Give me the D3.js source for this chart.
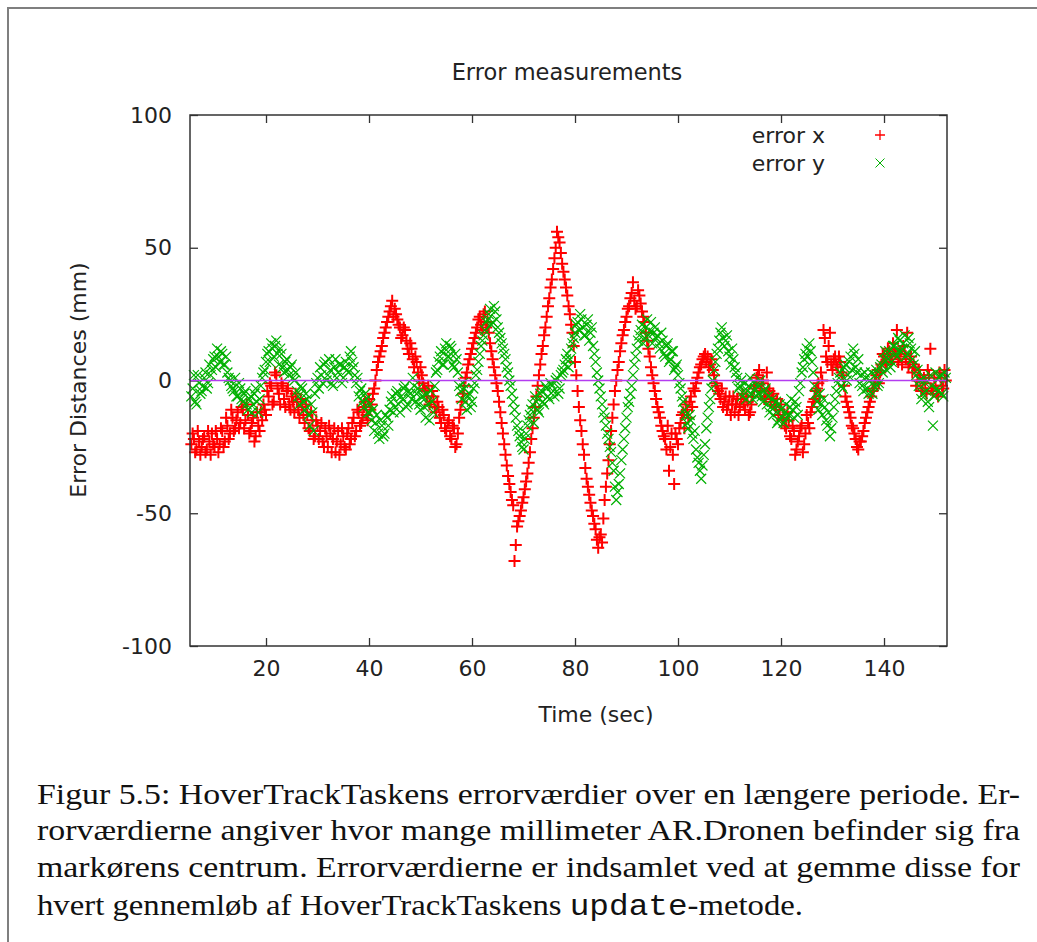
<!DOCTYPE html>
<html>
<head>
<meta charset="utf-8">
<script src="https://cdn.jsdelivr.net/npm/d3@7"></script>
<style>
  body { margin: 0; background: #fff; }
  svg { display: block; }
</style>
</head>
<body>
<svg id="chart" width="1037" height="942"></svg>
<script>
// sample times in seconds (one row = 5 sec), first reading pass
var times = [
  5.5, 6, 6.5, 7, 7.5, 8, 8.5, 9, 9.5, 10,
  10.5, 11, 11.5, 12, 12.5, 13, 13.5, 14, 14.5, 15,
  15.5, 16, 16.5, 17, 17.5, 18, 18.5, 19, 19.5, 20,
  20.5, 21, 21.5, 22, 22.5, 23, 23.5, 24, 24.5, 25,
  25.5, 26, 26.5, 27, 27.5, 28, 28.5, 29, 29.5, 30,
  30.5, 31, 31.5, 32, 32.5, 33, 33.5, 34, 34.5, 35,
  35.5, 36, 36.5, 37, 37.5, 38, 38.5, 39, 39.5, 40,
  40.5, 41, 41.5, 42, 42.5, 43, 43.5, 44, 44.5, 45,
  45.5, 46, 46.5, 47, 47.5, 48, 48.5, 49, 49.5, 50,
  50.5, 51, 51.5, 52, 52.5, 53, 53.5, 54, 54.5, 55,
  55.5, 56, 56.5, 57, 57.5, 58, 58.5, 59, 59.5, 60,
  60.5, 61, 61.5, 62, 62.5, 63, 63.5, 64, 64.5, 65,
  65.5, 66, 66.5, 67, 67.5, 68, 68.5, 69, 69.5, 70,
  70.5, 71, 71.5, 72, 72.5, 73, 73.5, 74, 74.5, 75,
  75.5, 76, 76.5, 77, 77.5, 78, 78.5, 79, 79.5, 80,
  80.5, 81, 81.5, 82, 82.5, 83, 83.5, 84, 84.5, 85,
  85.5, 86, 86.5, 87, 87.5, 88, 88.5, 89, 89.5, 90,
  90.5, 91, 91.5, 92, 92.5, 93, 93.5, 94, 94.5, 95,
  95.5, 96, 96.5, 97, 97.5, 98, 98.5, 99, 99.5, 100,
  100.5, 101, 101.5, 102, 102.5, 103, 103.5, 104, 104.5, 105,
  105.5, 106, 106.5, 107, 107.5, 108, 108.5, 109, 109.5, 110,
  110.5, 111, 111.5, 112, 112.5, 113, 113.5, 114, 114.5, 115,
  115.5, 116, 116.5, 117, 117.5, 118, 118.5, 119, 119.5, 120,
  120.5, 121, 121.5, 122, 122.5, 123, 123.5, 124, 124.5, 125,
  125.5, 126, 126.5, 127, 127.5, 128, 128.5, 129, 129.5, 130,
  130.5, 131, 131.5, 132, 132.5, 133, 133.5, 134, 134.5, 135,
  135.5, 136, 136.5, 137, 137.5, 138, 138.5, 139, 139.5, 140,
  140.5, 141, 141.5, 142, 142.5, 143, 143.5, 144, 144.5, 145,
  145.5, 146, 146.5, 147, 147.5, 148, 148.5, 149, 149.5, 150,
  150.5, 151, 151.5, 152
];

var errorX = [
  -24, -22, -26, -23, -25, -21, -26, -23, -20, -25,
  -22, -24, -19, -23, -17, -20, -14, -18, -12, -16,
  -11, -15, -13, -19, -14, -21, -17, -12, -9, -13,
  -6, -2, -8, 2, -5, -1, -7, -4, -9, -6,
  -12, -8, -14, -10, -16, -13, -19, -15, -21, -17,
  -19, -23, -18, -25, -20, -22, -27, -19, -24, -21,
  -26, -18, -22, -14, -19, -12, -16, -10, -13, -7,
  -9, -3, 4, 9, 13, 18, 22, 26, 30, 27,
  23, 20, 17, 19, 12, 14, 8, 9, 3, 5,
  -1, -4, -2, -8, -6, -12, -10, -16, -13, -19,
  -15, -22, -18, -24, -14, -8, -2, 3, 8, 12,
  16, 20, 24, 19, 26, 22, 14, 8, 2, -4,
  -12, -20, -28, -36, -42, -47, -62, -53, -49, -44,
  -38, -31, -22, -14, -6, 2, 10, 17, 24, 31,
  38, 46, 56, 52, 44, 38, 32, 25, 18, 7,
  -4, -15, -24, -33, -40, -46, -51, -56, -63, -58,
  -52, -40, -30, -19, -9, 0, 7, 14, 19, 24,
  28, 33, 30, 28, 32, 26, 22, 15, 9, 2,
  -4, -10, -14, -19, -22, -17, -25, -28, -20, -24,
  -16, -12, -9, -14, -6, -3, -1, 3, 6, 9,
  7, 5, 8, 2, -2, -5, -3, -8, -11, -6,
  -9, -12, -7, -10, -5, -11, -8, -12, -6, -2,
  2, -4, 0, -6, -3, -8, -5, -10, -13, -9,
  -14, -18, -15, -22, -19, -26, -21, -17, -24, -13,
  -18, -10, -7, -3, -6, 0, 16, 7, 18, 4,
  9, 5, 7, 2, -6, -10, -14, -18, -22, -26,
  -23, -19, -14, -10, -6, -3, 2, -1, 6, 9,
  6, 11, 8, 12, 19, 9, 6, 10, 18, 7,
  3, 5, 0, 2, -3, -1, 4, 12, -4, -2,
  -6, 1, -3, 0
];

var errorY = [
  -6, 2, -9, -1, -4, 1, -3, 6, 4, 9,
  12, 7, 10, 6, 3, 0, -3, 1, -6, -3,
  -8, -4, -11, -6, -9, -3, -12, -2, 3, 7,
  11, 14, 9, 15, 6, 10, 3, 8, 2, 6,
  0, -4, -9, -3, -11, -7, -17, -12, -5, 1,
  5, -1, 7, 2, 4, -2, 8, 3, 6, 1,
  7, 3, 11, 5, -1, -6, -3, -10, -7, -12,
  -15, -19, -13, -22, -17, -20, -14, -11, -6, -10,
  -4, -12, -7, -2, -9, -5, 1, -8, -3, -11,
  -6, -14, -9, -4, -12, 3, 7, 11, 6, 14,
  9, 12, 5, 8, -2, -7, -3, -11, -5, -8,
  -1, 4, 10, 15, 19, 23, 27, 22, 26, 20,
  16, 12, 8, 3, -2, -8, -14, -19, -23, -26,
  -20, -15, -11, -16, -8, -12, -4, -9, -3, -7,
  -2, -6, 1, -3, 3, 6, 10, 8, 14, 18,
  22, 25, 20, 17, 23, 18, 13, 7, 0, -6,
  -12, -17, -22, -27, -34, -45, -39, -30, -22, -14,
  -8, -2, 6, 12, 17, 21, 16, 23, 19, 14,
  20, 17, 12, 15, 9, 14, 8, 11, 5, 2,
  -3, -8, -13, -18, -15, -22, -26, -31, -37, -28,
  -18, -10, -3, 4, 10, 15, 20, 13, 17, 9,
  12, 5, 1, -2, -6, -1, -4, 1, -7, -3,
  -5, 0, -8, -3, -6, -10, -13, -8, -15, -11,
  -16, -9, -13, -7, -14, -10, -4, 3, 8, 12,
  14, 7, -2, -8, -5, -13, -10, -17, -21, -14,
  -7, -1, 3, -3, 6, 2, 9, 12, 5, 8,
  2, -4, 1, -5, 3, -2, 4, -1, 6, 8,
  4, 11, 7, 13, 9, 15, 12, 17, 10, 14,
  8, 11, 4, 0, -5, -1, -8, 2, -17, 3,
  -4, 2, -6, 1
];

// second reading pass, in between the first one
var timesB = [
  5.75, 6.25, 6.75, 7.25, 7.75, 8.25, 8.75, 9.25, 9.75, 10.25,
  10.75, 11.25, 11.75, 12.25, 12.75, 13.25, 13.75, 14.25, 14.75, 15.25,
  15.75, 16.25, 16.75, 17.25, 17.75, 18.25, 18.75, 19.25, 19.75, 20.25,
  20.75, 21.25, 21.75, 22.25, 22.75, 23.25, 23.75, 24.25, 24.75, 25.25,
  25.75, 26.25, 26.75, 27.25, 27.75, 28.25, 28.75, 29.25, 29.75, 30.25,
  30.75, 31.25, 31.75, 32.25, 32.75, 33.25, 33.75, 34.25, 34.75, 35.25,
  35.75, 36.25, 36.75, 37.25, 37.75, 38.25, 38.75, 39.25, 39.75, 40.25,
  40.75, 41.25, 41.75, 42.25, 42.75, 43.25, 43.75, 44.25, 44.75, 45.25,
  45.75, 46.25, 46.75, 47.25, 47.75, 48.25, 48.75, 49.25, 49.75, 50.25,
  50.75, 51.25, 51.75, 52.25, 52.75, 53.25, 53.75, 54.25, 54.75, 55.25,
  55.75, 56.25, 56.75, 57.25, 57.75, 58.25, 58.75, 59.25, 59.75, 60.25,
  60.75, 61.25, 61.75, 62.25, 62.75, 63.25, 63.75, 64.25, 64.75, 65.25,
  65.75, 66.25, 66.75, 67.25, 67.75, 68.25, 68.75, 69.25, 69.75, 70.25,
  70.75, 71.25, 71.75, 72.25, 72.75, 73.25, 73.75, 74.25, 74.75, 75.25,
  75.75, 76.25, 76.75, 77.25, 77.75, 78.25, 78.75, 79.25, 79.75, 80.25,
  80.75, 81.25, 81.75, 82.25, 82.75, 83.25, 83.75, 84.25, 84.75, 85.25,
  85.75, 86.25, 86.75, 87.25, 87.75, 88.25, 88.75, 89.25, 89.75, 90.25,
  90.75, 91.25, 91.75, 92.25, 92.75, 93.25, 93.75, 94.25, 94.75, 95.25,
  95.75, 96.25, 96.75, 97.25, 97.75, 98.25, 98.75, 99.25, 99.75, 100.25,
  100.75, 101.25, 101.75, 102.25, 102.75, 103.25, 103.75, 104.25, 104.75, 105.25,
  105.75, 106.25, 106.75, 107.25, 107.75, 108.25, 108.75, 109.25, 109.75, 110.25,
  110.75, 111.25, 111.75, 112.25, 112.75, 113.25, 113.75, 114.25, 114.75, 115.25,
  115.75, 116.25, 116.75, 117.25, 117.75, 118.25, 118.75, 119.25, 119.75, 120.25,
  120.75, 121.25, 121.75, 122.25, 122.75, 123.25, 123.75, 124.25, 124.75, 125.25,
  125.75, 126.25, 126.75, 127.25, 127.75, 128.25, 128.75, 129.25, 129.75, 130.25,
  130.75, 131.25, 131.75, 132.25, 132.75, 133.25, 133.75, 134.25, 134.75, 135.25,
  135.75, 136.25, 136.75, 137.25, 137.75, 138.25, 138.75, 139.25, 139.75, 140.25,
  140.75, 141.25, 141.75, 142.25, 142.75, 143.25, 143.75, 144.25, 144.75, 145.25,
  145.75, 146.25, 146.75, 147.25, 147.75, 148.25, 148.75, 149.25, 149.75, 150.25,
  150.75, 151.25, 151.75
];

var errorXB = [
  -20, -27, -19, -28, -22, -27, -19, -28, -24, -19,
  -27, -18, -25, -14, -22, -11, -19, -15, -18, -10,
  -18, -9, -20, -16, -23, -12, -19, -15, -11, -4,
  -1, -9, 3, -3, -9, -2, -10, -3, -11, -8,
  -5, -11, -7, -13, -9, -18, -12, -22, -15, -22,
  -16, -25, -21, -17, -27, -18, -23, -28, -18, -25,
  -20, -24, -16, -21, -11, -17, -14, -8, -15, -11,
  -5, 0, 7, 11, 16, 20, 24, 28, 24, 25,
  21, 16, 20, 15, 10, 12, 5, 7, 0, 2,
  -3, -6, -9, -4, -10, -8, -14, -11, -18, -16,
  -21, -17, -25, -20, -11, -5, 1, 6, 10, 14,
  18, 23, 21, 25, 20, 18, 11, 5, -1, -8,
  -16, -24, -32, -39, -45, -68, -55, -51, -46, -41,
  -35, -27, -18, -10, -2, 6, 13, 20, 28, 35,
  42, 50, 54, 48, 41, 35, 28, 21, 13, 2,
  -10, -19, -28, -37, -43, -49, -54, -60, -59, -61,
  -45, -35, -24, -14, -4, 4, 11, 17, 22, 27,
  31, 37, 27, 34, 29, 24, 18, 12, 5, -1,
  -7, -12, -17, -21, -26, -34, -20, -39, -22, -18,
  -13, -18, -11, -8, -10, -4, 1, 5, 8, 10,
  9, 6, 4, -1, -4, -7, -10, -6, -9, -13,
  -6, -9, -13, -7, -9, -6, -13, -9, -3, 1,
  4, -1, -7, 3, -4, -6, -9, -7, -11, -15,
  -17, -12, -21, -17, -28, -23, -18, -27, -20, -16,
  -12, -8, -4, -1, 3, 19, 9, 13, 6, 8,
  6, 9, 3, -2, -8, -12, -17, -20, -25, -23,
  -21, -16, -12, -8, -4, 0, 4, 3, 10, 7,
  12, 9, 14, 10, 7, 11, 13, 8, 5, 9,
  6, -2, 4, -4, 1, -5, 2, -3, 1, -5,
  3, -2, 4
];

var errorYB = [
  -3, -8, 2, -5, -2, 3, -1, 2, 8, 5,
  9, 11, 6, 9, 1, -2, -4, -6, -1, -7,
  -5, -9, -7, -12, -5, -8, -7, 1, 4, 10,
  7, 12, 13, 10, 12, 5, 7, 4, 5, 1,
  3, -6, -2, -8, -5, -13, -9, -19, -1, -3,
  2, 6, 0, 8, -1, 5, 1, 6, -1, 5,
  4, 9, 7, 2, 1, -4, -8, -5, -12, -9,
  -11, -16, -20, -15, -21, -13, -17, -8, -12, -5,
  -9, -6, -3, -10, -4, -7, -2, -5, -9, -6,
  -10, -5, -15, -8, -2, 4, 9, 6, 12, 9,
  13, 6, 10, 3, -4, -1, -8, -6, -10, -3,
  2, 7, 13, 17, 22, 25, 21, 28, 23, 18,
  14, 10, 5, 0, -5, -11, -17, -21, -25, -22,
  -17, -13, -9, -6, -11, -5, -8, -2, -6, -1,
  -4, 0, -5, 2, 4, 8, 5, 12, 16, 21,
  19, 23, 17, 21, 15, 20, 10, 3, -3, -9,
  -14, -20, -25, -31, -40, -42, -35, -26, -18, -10,
  -5, 2, 9, 15, 19, 14, 20, 17, 22, 18,
  16, 14, 18, 10, 13, 7, 11, 4, 6, -1,
  -6, -11, -16, -13, -20, -19, -29, -34, -32, -24,
  -14, -7, 0, 7, 12, 18, 16, 15, 11, 6,
  8, 3, -3, 0, -4, -7, -2, -5, -1, -6,
  -2, -6, -4, -9, -12, -7, -10, -16, -9, -14,
  -12, -14, -10, -11, -8, -13, -1, 5, 10, 9,
  11, 3, -5, -11, -9, -7, -15, -12, -18, -10,
  -4, 1, -2, 5, 0, 7, 4, 10, 3, -1,
  -2, 3, -3, 0, -5, 2, -2, 5, 3, 11,
  8, 5, 13, 10, 16, 11, 14, 9, 16, 12,
  6, 2, -2, -7, 1, -4, -10, -2, -6, -3,
  1, -5, 3
];

var xTicks = [20, 40, 60, 80, 100, 120, 140];
var yTicks = [-100, -50, 0, 50, 100];
var seriesNames = ["error x", "error y"];

var captionLines = [
  "Figur 5.5: HoverTrackTaskens errorværdier over en længere periode. Er-",
  "rorværdierne angiver hvor mange millimeter AR.Dronen befinder sig fra",
  "markørens centrum. Errorværdierne er indsamlet ved at gemme disse for"
];

var svg = d3.select("#chart");

svg.append("rect")
    .attr("width", 1037)
    .attr("height", 942)
    .attr("fill", "#fff");

// page frame (figure box)
svg.append("path")
    .attr("d", "M8,942V8H1037")
    .attr("fill", "none")
    .attr("stroke", "#7f7f7f")
    .attr("stroke-width", 2);

var margin = {top: 115, left: 190},
    width = 757,
    height = 531;

var x = d3.scaleLinear()
    .domain([5.24, 152.23])
    .range([0, width]);

var y = d3.scaleLinear()
    .domain([-100, 100])
    .range([height, 0]);

var font = "'DejaVu Sans', sans-serif";
var plain = function(d) { return String(d); }; // keep hyphen minus like gnuplot

// title
svg.append("text")
    .attr("x", 567)
    .attr("y", 80)
    .attr("text-anchor", "middle")
    .style("font-family", font)
    .style("font-size", "22.5px")
    .attr("fill", "#222")
    .text("Error measurements");

var plot = svg.append("g")
    .attr("transform", "translate(" + margin.left + "," + margin.top + ")");

function styleAxis(g) {
  g.attr("font-family", null).attr("font-size", null);
  g.select(".domain").remove();
  g.selectAll(".tick line").attr("stroke", "#333").attr("stroke-width", 1.3);
  g.selectAll(".tick text")
      .style("font-family", font)
      .style("font-size", "22px")
      .attr("fill", "#222");
}

plot.append("g")
    .attr("transform", "translate(0," + height + ")")
    .call(d3.axisBottom(x).tickValues(xTicks).tickSize(-8).tickPadding(14).tickFormat(plain))
    .call(styleAxis);

plot.append("g")
    .call(d3.axisTop(x).tickValues(xTicks).tickSize(-8).tickFormat(""))
    .call(styleAxis);

plot.append("g")
    .call(d3.axisLeft(y).tickValues(yTicks).tickSize(-8).tickPadding(18).tickFormat(plain))
    .call(styleAxis);

plot.append("g")
    .attr("transform", "translate(" + width + ",0)")
    .call(d3.axisRight(y).tickValues(yTicks).tickSize(-8).tickFormat(""))
    .call(styleAxis);

// axis titles
svg.append("text")
    .attr("x", 596)
    .attr("y", 722)
    .attr("text-anchor", "middle")
    .style("font-family", font)
    .style("font-size", "22px")
    .attr("fill", "#222")
    .text("Time (sec)");

svg.append("text")
    .attr("transform", "translate(86,380) rotate(-90)")
    .attr("text-anchor", "middle")
    .style("font-family", font)
    .style("font-size", "22px")
    .attr("fill", "#222")
    .text("Error Distances (mm)");

var plusPath = "M-6,0H6M0,-6V6";
var crossPath = "M-5,-5L5,5M-5,5L5,-5";
var legendPlus = "M-5,0H5M0,-5V5";
var legendCross = "M-4.5,-4.5L4.5,4.5M-4.5,4.5L4.5,-4.5";

function pairUp(ts, vs) {
  return ts.map(function(t, i) { return {t: t, v: vs[i]}; });
}
var pointsX = pairUp(times, errorX).concat(pairUp(timesB, errorXB));
var pointsY = pairUp(times, errorY).concat(pairUp(timesB, errorYB));

plot.append("g").selectAll("path")
    .data(pointsX)
  .enter().append("path")
    .attr("transform", function(d) { return "translate(" + x(d.t) + "," + y(d.v) + ")"; })
    .attr("d", plusPath)
    .attr("stroke", "#ff0000")
    .attr("stroke-width", 2)
    .attr("fill", "none");

plot.append("g").selectAll("path")
    .data(pointsY)
  .enter().append("path")
    .attr("transform", function(d) { return "translate(" + x(d.t) + "," + y(d.v) + ")"; })
    .attr("d", crossPath)
    .attr("stroke", "#00b000")
    .attr("stroke-width", 1.2)
    .attr("fill", "none");

// zero line
plot.append("line")
    .attr("x1", 0)
    .attr("x2", width)
    .attr("y1", y(0))
    .attr("y2", y(0))
    .attr("stroke", "#b43cf0")
    .attr("stroke-width", 1.5);

// plot border
plot.append("rect")
    .attr("width", width)
    .attr("height", height)
    .attr("fill", "none")
    .attr("stroke", "#333")
    .attr("stroke-width", 1.5);

// legend
var legend = plot.append("g");
var legendMarks = [legendPlus, legendCross];
var legendColors = ["#ff0000", "#00b000"];
seriesNames.forEach(function(name, i) {
  var ly = 20 + i * 28;
  legend.append("text")
      .attr("x", 635)
      .attr("y", ly)
      .attr("dy", "0.35em")
      .attr("text-anchor", "end")
      .style("font-family", font)
      .style("font-size", "22px")
      .attr("fill", "#222")
      .text(name);
  legend.append("path")
      .attr("transform", "translate(690," + ly + ")")
      .attr("d", legendMarks[i])
      .attr("stroke", legendColors[i])
      .attr("stroke-width", i === 0 ? 1.3 : 1.0)
      .attr("fill", "none");
});

// caption
var serif = "'Liberation Serif', 'DejaVu Serif', serif";
var capY = [804, 840, 877];
captionLines.forEach(function(line, i) {
  svg.append("text")
      .attr("x", 37)
      .attr("y", capY[i])
      .attr("textLength", 983)
      .attr("lengthAdjust", "spacingAndGlyphs")
      .style("font-family", serif)
      .style("font-size", "30px")
      .attr("fill", "#111")
      .text(line);
});

var last = svg.append("text")
    .attr("x", 37)
    .attr("y", 915)
    .attr("textLength", 766)
    .attr("lengthAdjust", "spacingAndGlyphs")
    .style("font-family", serif)
    .style("font-size", "30px")
    .attr("fill", "#111");
last.append("tspan").text("hvert gennemløb af HoverTrackTaskens ");
last.append("tspan").style("font-family", "'Liberation Mono', 'DejaVu Sans Mono', monospace").text("update");
last.append("tspan").text("-metode.");
</script>
</body>
</html>
